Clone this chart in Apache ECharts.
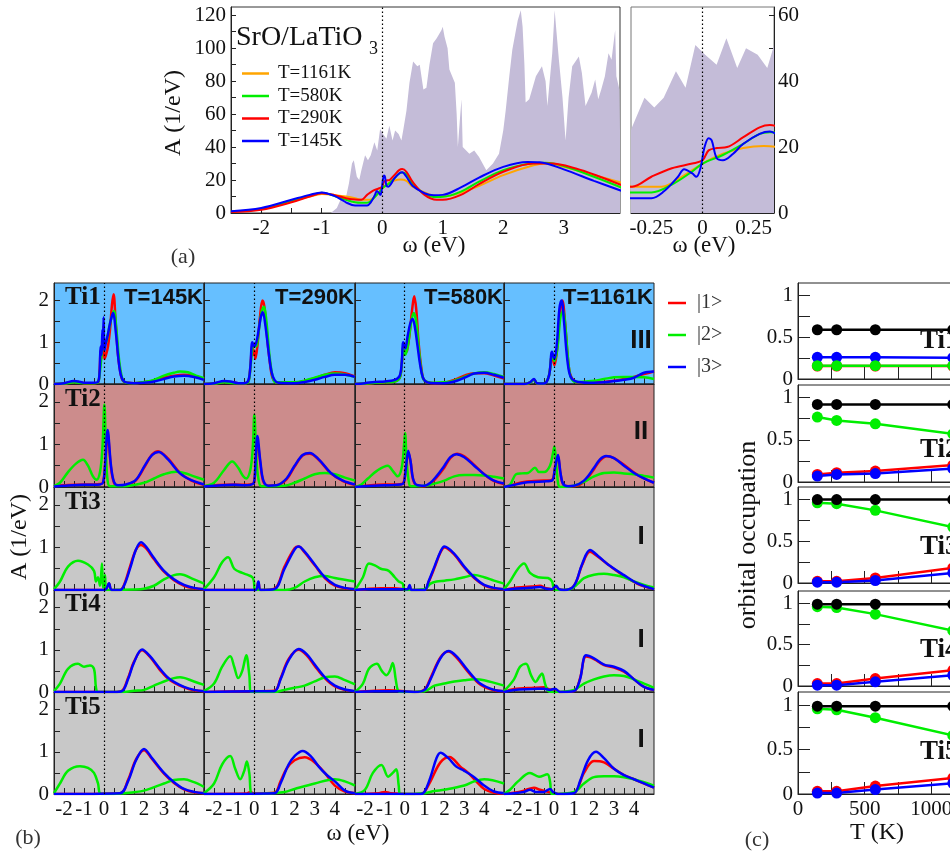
<!DOCTYPE html>
<html>
<head>
<meta charset="utf-8">
<script src="https://cdn.jsdelivr.net/npm/echarts@6/dist/echarts.min.js"></script>
<style>
html,body{margin:0;padding:0;background:#fff}
#main{width:950px;height:855px}
</style>
</head>
<body>
<div id="main"></div>
<script>
// ---------------- panel (a): total spectral function ----------------
var legendA = ['T=1161K', 'T=580K', 'T=290K', 'T=145K'];
var dosA = [[-0.85,0],[-0.75,3],[-0.69,8],[-0.62,6],[-0.55,18],[-0.5,30],[-0.47,32],[-0.42,22],[-0.38,20],[-0.345,26],[-0.284,35],[-0.236,32],[-0.19,35],[-0.13,43],[-0.083,38],[-0.035,51],[0.013,48],[0.069,45],[0.117,53],[0.17,44],[0.213,50],[0.27,48],[0.317,44],[0.346,50],[0.4,62],[0.45,79],[0.51,92],[0.58,89],[0.62,90],[0.68,75],[0.73,76],[0.78,90],[0.84,103],[0.9,106],[0.98,111],[1.0,113],[1.03,107],[1.08,100],[1.11,87],[1.2,79],[1.23,60],[1.25,40],[1.28,55],[1.31,69],[1.33,40],[1.44,36],[1.52,38],[1.6,34],[1.72,26],[1.83,30],[1.93,36],[2.0,50],[2.04,62],[2.1,83],[2.15,99],[2.24,117],[2.29,123],[2.32,113],[2.35,90],[2.37,67],[2.43,69],[2.54,83],[2.64,89],[2.7,80],[2.73,65],[2.78,85],[2.81,97],[2.85,123],[2.88,110],[2.92,93],[2.98,70],[3.03,44],[3.08,70],[3.14,89],[3.25,95],[3.3,85],[3.36,65],[3.46,73],[3.52,81],[3.57,69],[3.62,75],[3.68,83],[3.74,97],[3.79,93],[3.85,111],[3.87,83],[3.92,75],[3.95,75]];
var a1161 = [[-2.5,0.8],[-2,2.5],[-1.5,7],[-1.2,10],[-1,11.5],[-0.8,11],[-0.6,10],[-0.45,9],[-0.345,8],[-0.2,8],[-0.1,11],[0,15],[0.1,18],[0.2,19.7],[0.3,20.3],[0.4,19.5],[0.5,16],[0.8,11],[1.0,10],[1.5,15],[2.0,23],[2.5,29],[2.7,30],[3.0,28],[3.5,23],[3.95,18.5]];
var a580 = [[-2.5,0.8],[-2,2.5],[-1.5,7.5],[-1.2,10.5],[-1,12.3],[-0.8,10.5],[-0.6,8],[-0.45,6.5],[-0.345,6.2],[-0.25,6.2],[-0.15,8.6],[-0.05,12.6],[0,15],[0.1,17.6],[0.2,21],[0.28,24],[0.33,24.5],[0.4,23.5],[0.5,18],[0.7,11.5],[0.9,9.7],[1.0,9.8],[1.3,13],[1.6,19],[2.0,26],[2.45,30],[2.7,30.5],[3.0,28.5],[3.5,22],[3.95,15.5]];
var a290 = [[-2.5,0.6],[-2,2],[-1.5,6.5],[-1.2,10],[-1,12],[-0.8,11],[-0.6,9],[-0.45,8.2],[-0.345,8],[-0.25,11],[-0.15,13.6],[-0.05,15],[0,16],[0.03,19],[0.07,19.7],[0.12,20],[0.2,23],[0.28,26],[0.33,26.7],[0.4,25],[0.5,19],[0.7,11],[0.9,8],[1.0,8],[1.3,11],[1.6,17.5],[2.0,25],[2.5,30],[2.8,30],[3.2,27],[3.6,22],[3.95,17]];
var a145 = [[-2.5,1],[-2,3],[-1.5,8],[-1.2,11],[-1,12.5],[-0.8,10.5],[-0.6,6.5],[-0.45,4.5],[-0.345,4.5],[-0.25,4.5],[-0.19,6.5],[-0.12,11],[-0.09,13.3],[-0.05,12],[-0.03,11],[-0.01,13.6],[0.01,20],[0.03,22.7],[0.045,22],[0.07,16.6],[0.1,16],[0.15,18],[0.2,21],[0.28,24],[0.33,24.7],[0.4,22],[0.5,16.5],[0.7,12],[0.85,10.8],[1.0,11],[1.3,15.5],[1.6,21.5],[2.0,28],[2.4,31],[2.6,30.8],[3.0,26.5],[3.5,19.5],[3.95,13.5]];
var ticksAx = [-2,-1.5,-1,-0.5,0,0.5,1,1.5,2,2.5,3,3.5];
var labelsAx = [-2,-1,0,1,2,3];
var ticksAy = [10,20,30,40,50,60,70,80,90,100,110,120];
var labelsAy = [0,20,40,60,80,100,120];
var ticksZx = [-0.25,-0.125,0,0.125,0.25];
var labelsZx = [-0.25,0,0.25];
var ticksZy = [10,20,30,40,50,60];
var labelsZy = [0,20,40,60];

// ---------------- panel (b): orbital-resolved spectra ----------------
var legendB = ['|1>', '|2>', '|3>'];
var tempsB = ['T=145K', 'T=290K', 'T=580K', 'T=1161K'];
var sitesB = ['Ti1', 'Ti2', 'Ti3', 'Ti4', 'Ti5'];
var regimesB = ['III', 'II', 'I', 'I', 'I'];
var ticksBx = [-2,-1.5,-1,-0.5,0,0.5,1,1.5,2,2.5,3,3.5,4,4.5];
var labelsBx = [-2,-1,0,1,2,3,4];
var ticksBy = [0.5,1,1.5,2];
var labelsBy = [0,1,2];

var ti1_145_r = [[-2.5,0],[-2,0.01],[-1.5,0.05],[-1.3,0.05],[-1,0.02],[-0.5,0.02],[-0.3,0.04],[-0.22,0.3],[-0.17,0.8],[-0.12,0.6],[-0.08,1.2],[-0.05,0.8],[-0.02,1.4],[0.02,0.6],[0.1,0.7],[0.2,0.9],[0.3,1.3],[0.4,1.9],[0.48,2.15],[0.58,1.5],[0.7,0.7],[0.85,0.2],[1.0,0.05],[1.5,0.02],[2,0.04],[2.5,0.08],[3,0.15],[3.5,0.2],[4,0.22],[4.5,0.2],[5,0.12]];
var ti1_145_g = [[-2.5,0],[-2,0.01],[-1.5,0.04],[-1,0.02],[-0.5,0.02],[-0.3,0.04],[-0.2,0.3],[-0.1,0.8],[0,1.0],[0.1,1.0],[0.2,1.2],[0.35,1.55],[0.5,1.75],[0.62,1.3],[0.75,0.6],[0.9,0.15],[1.05,0.04],[1.5,0.02],[2,0.05],[2.5,0.1],[3,0.2],[3.5,0.27],[3.8,0.3],[4.2,0.28],[4.6,0.2],[5,0.14]];
var ti1_145_b = [[-2.5,0],[-2,0.02],[-1.5,0.07],[-1.3,0.06],[-1,0.03],[-0.5,0.03],[-0.3,0.05],[-0.22,0.3],[-0.17,0.9],[-0.12,0.7],[-0.08,1.3],[-0.05,0.9],[-0.02,1.6],[0.02,0.8],[0.1,1.0],[0.2,1.2],[0.3,1.45],[0.45,1.7],[0.6,1.2],[0.72,0.6],[0.85,0.2],[1.0,0.06],[1.2,0.03],[1.5,0.02],[2,0.03],[2.5,0.06],[3,0.12],[3.5,0.18],[4,0.2],[4.5,0.17],[5,0.1]];
var ti1_290_r = [[-2.5,0],[-2,0.01],[-1.5,0.05],[-1.2,0.05],[-0.8,0.02],[-0.5,0.02],[-0.3,0.06],[-0.2,0.4],[-0.1,0.95],[-0.05,0.7],[0,0.8],[0.05,0.6],[0.15,0.9],[0.28,1.6],[0.4,2.0],[0.5,1.85],[0.62,1.2],[0.75,0.6],[0.9,0.15],[1.1,0.04],[2,0.03],[2.5,0.07],[3,0.14],[3.5,0.22],[4,0.28],[4.5,0.26],[5,0.18]];
var ti1_290_g = [[-2.5,0],[-2,0.01],[-1.5,0.04],[-1,0.02],[-0.5,0.02],[-0.3,0.05],[-0.2,0.35],[-0.1,0.85],[0,0.95],[0.1,0.9],[0.2,1.2],[0.35,1.7],[0.48,1.85],[0.6,1.5],[0.75,0.7],[0.9,0.2],[1.05,0.04],[2,0.04],[2.5,0.08],[3,0.15],[3.5,0.22],[4,0.25],[4.5,0.23],[5,0.17]];
var ti1_290_b = [[-2.5,0],[-2,0.02],[-1.5,0.07],[-1.2,0.06],[-0.8,0.02],[-0.5,0.02],[-0.3,0.08],[-0.2,0.4],[-0.1,1.0],[0,0.9],[0.1,1.0],[0.2,1.25],[0.32,1.6],[0.42,1.72],[0.55,1.4],[0.7,0.8],[0.85,0.3],[1.0,0.1],[1.2,0.03],[2,0.02],[2.5,0.05],[3,0.1],[3.5,0.17],[4,0.22],[4.5,0.22],[5,0.17]];
var ti1_580_r = [[-2.5,0],[-2,0.01],[-1.5,0.03],[-1,0.04],[-0.5,0.06],[-0.25,0.15],[-0.15,0.45],[-0.07,0.9],[0.03,0.75],[0.12,0.8],[0.25,1.2],[0.38,1.8],[0.48,2.1],[0.58,1.8],[0.7,1.0],[0.85,0.35],[1.0,0.08],[1.5,0.02],[2,0.03],[2.5,0.1],[3,0.2],[3.5,0.26],[4,0.26],[4.5,0.2],[5,0.13]];
var ti1_580_g = [[-2.5,0],[-2,0.01],[-1.5,0.03],[-1,0.04],[-0.5,0.06],[-0.25,0.15],[-0.15,0.45],[-0.07,0.9],[0.03,0.7],[0.15,0.9],[0.3,1.4],[0.45,1.7],[0.58,1.5],[0.7,0.9],[0.85,0.3],[1.0,0.08],[1.5,0.03],[2,0.04],[2.5,0.08],[3,0.17],[3.5,0.25],[4,0.28],[4.5,0.24],[5,0.17]];
var ti1_580_b = [[-2.5,0],[-2,0.02],[-1.5,0.05],[-1,0.06],[-0.5,0.1],[-0.25,0.2],[-0.15,0.5],[-0.07,1.0],[0.03,0.85],[0.15,1.15],[0.28,1.45],[0.4,1.56],[0.52,1.35],[0.65,0.9],[0.8,0.4],[0.95,0.12],[1.15,0.04],[1.5,0.02],[2,0.02],[2.5,0.06],[3,0.15],[3.5,0.25],[4,0.27],[4.5,0.22],[5,0.15]];
var ti1_1161_r = [[-2.5,0],[-1.5,0],[-1.2,0.03],[-1.0,0.1],[-0.85,0.02],[-0.5,0.01],[-0.25,0.2],[-0.1,0.72],[0.02,0.45],[0.15,0.8],[0.3,1.7],[0.42,2.0],[0.55,1.5],[0.68,0.7],[0.8,0.25],[1.0,0.07],[1.2,0.04],[2,0.04],[2.5,0.05],[3,0.08],[3.5,0.12],[4,0.17],[4.5,0.24],[5,0.3]];
var ti1_1161_g = [[-2.5,0],[-1.5,0],[-1.2,0.03],[-1.0,0.1],[-0.85,0.02],[-0.5,0.01],[-0.25,0.2],[-0.1,0.7],[0.02,0.55],[0.18,0.9],[0.32,1.6],[0.45,1.75],[0.58,1.3],[0.72,0.5],[0.85,0.15],[1.1,0.05],[2,0.08],[2.5,0.12],[3,0.16],[3.5,0.17],[4,0.17],[4.5,0.16],[5,0.12]];
var ti1_1161_b = [[-2.5,0],[-1.5,0],[-1.2,0.04],[-1.0,0.12],[-0.85,0.02],[-0.5,0.01],[-0.25,0.2],[-0.1,0.77],[0.02,0.6],[0.15,1.0],[0.27,1.8],[0.38,2.0],[0.5,1.5],[0.62,0.8],[0.75,0.3],[0.9,0.12],[1.2,0.05],[2,0.03],[2.5,0.04],[3,0.07],[3.5,0.1],[4,0.15],[4.5,0.27],[5,0.3]];

var ti2_145_r = [[-2.5,0.02],[-2,0.04],[-1,0.06],[-0.5,0.06],[-0.2,0.07],[-0.05,0.1],[0.05,0.45],[0.18,1.25],[0.35,0.45],[0.5,0.1],[0.7,0.03],[1.1,0.05],[1.58,0.15],[2.06,0.5],[2.4,0.76],[2.7,0.84],[3.2,0.67],[3.8,0.33],[4.37,0.15],[5,0.05]];
var ti2_145_g = [[-2.5,0.02],[-2.2,0.1],[-1.8,0.35],[-1.4,0.55],[-1.05,0.64],[-0.8,0.5],[-0.55,0.25],[-0.37,0.17],[-0.2,0.35],[-0.08,0.9],[0.02,1.94],[0.1,0.8],[0.18,0.15],[0.3,0.02],[1.0,0.02],[1.5,0.05],[2,0.1],[2.5,0.2],[3,0.3],[3.6,0.36],[4,0.33],[4.5,0.25],[5,0.17]];
var ti2_145_b = [[-2.5,0.01],[-2,0.03],[-1,0.05],[-0.5,0.05],[-0.2,0.06],[-0.05,0.1],[0.05,0.5],[0.18,1.34],[0.35,0.5],[0.5,0.12],[0.7,0.04],[1.1,0.06],[1.58,0.16],[2.06,0.52],[2.4,0.75],[2.73,0.82],[3.2,0.65],[3.8,0.32],[4.37,0.16],[5,0.06]];
var ti2_290_r = [[-2.5,0.02],[-2,0.04],[-1,0.06],[-0.5,0.05],[-0.2,0.06],[-0.02,0.1],[0.06,0.55],[0.15,1.1],[0.3,0.55],[0.45,0.12],[0.7,0.03],[1.1,0.04],[1.6,0.18],[2.0,0.48],[2.4,0.74],[2.75,0.78],[3.2,0.64],[3.8,0.32],[4.4,0.14],[5,0.05]];
var ti2_290_g = [[-2.5,0.02],[-2,0.1],[-1.5,0.4],[-1.1,0.6],[-0.8,0.45],[-0.55,0.25],[-0.4,0.2],[-0.2,0.4],[-0.08,0.9],[0.0,1.7],[0.1,0.7],[0.2,0.2],[0.35,0.02],[1.5,0.03],[2,0.1],[2.5,0.2],[3,0.3],[3.5,0.33],[4,0.3],[4.5,0.22],[5,0.15]];
var ti2_290_b = [[-2.5,0.01],[-2,0.03],[-1,0.05],[-0.5,0.04],[-0.2,0.05],[-0.02,0.1],[0.06,0.6],[0.15,1.2],[0.3,0.6],[0.45,0.15],[0.7,0.03],[1.1,0.04],[1.6,0.2],[2.0,0.5],[2.4,0.75],[2.75,0.8],[3.2,0.65],[3.8,0.33],[4.4,0.15],[5,0.06]];
var ti2_580_r = [[-2.5,0],[-2,0.03],[-1,0.06],[-0.5,0.06],[-0.1,0.08],[0.05,0.4],[0.18,0.82],[0.3,0.58],[0.42,0.18],[0.6,0.04],[1.0,0.02],[1.3,0.08],[1.6,0.22],[2,0.46],[2.3,0.68],[2.65,0.78],[3,0.72],[3.5,0.52],[4,0.3],[4.5,0.14],[5,0.07]];
var ti2_580_g = [[-2.5,0],[-2.2,0.05],[-1.85,0.2],[-1.4,0.38],[-0.85,0.5],[-0.6,0.38],[-0.35,0.25],[-0.15,0.45],[-0.03,1.0],[0.02,1.27],[0.1,0.6],[0.2,0.15],[0.3,0.02],[1,0.03],[1.5,0.08],[2,0.15],[2.5,0.25],[3,0.28],[3.5,0.28],[4,0.27],[4.5,0.24],[5,0.2]];
var ti2_580_b = [[-2.5,0],[-2,0.02],[-1,0.04],[-0.5,0.05],[-0.1,0.07],[0.05,0.4],[0.18,0.85],[0.3,0.6],[0.42,0.2],[0.6,0.05],[1.0,0.03],[1.3,0.1],[1.6,0.25],[2,0.5],[2.3,0.7],[2.6,0.77],[3,0.7],[3.5,0.5],[4,0.3],[4.5,0.15],[5,0.08]];
var ti2_1161_r = [[-2.5,0],[-2,0.06],[-1.5,0.12],[-1,0.14],[-0.5,0.15],[-0.1,0.17],[0.05,0.45],[0.2,0.72],[0.32,0.33],[0.45,0.07],[0.7,0.02],[1,0.02],[1.5,0.12],[2,0.42],[2.3,0.62],[2.65,0.72],[3,0.68],[3.5,0.52],[4,0.34],[4.5,0.2],[5,0.1]];
var ti2_1161_g = [[-2.5,0],[-2.2,0.05],[-1.9,0.3],[-1.6,0.32],[-1.3,0.33],[-0.95,0.45],[-0.75,0.35],[-0.5,0.35],[-0.2,0.5],[-0.05,0.8],[0.02,0.95],[0.12,0.5],[0.2,0.1],[0.3,0],[1,0.03],[1.5,0.12],[2,0.25],[2.5,0.33],[3,0.34],[3.5,0.32],[4,0.3],[4.5,0.26],[5,0.22]];
var ti2_1161_b = [[-2.5,0],[-2,0.05],[-1.5,0.1],[-1,0.12],[-0.5,0.13],[-0.1,0.15],[0.05,0.45],[0.2,0.75],[0.32,0.35],[0.45,0.08],[0.7,0.02],[1,0.03],[1.5,0.15],[2,0.45],[2.3,0.65],[2.6,0.73],[3,0.68],[3.5,0.5],[4,0.33],[4.5,0.2],[5,0.1]];

var ti3_145_r = [[-2.5,0],[-0.1,0],[0.1,0.02],[0.25,0.15],[0.38,0],[0.8,0],[1.0,0.12],[1.3,0.55],[1.6,0.95],[1.85,1.06],[2.1,0.98],[2.5,0.72],[3.0,0.43],[3.5,0.23],[4.0,0.1],[4.5,0.04],[5,0.02]];
var ti3_145_g = [[-2.5,0.02],[-2.2,0.2],[-1.8,0.55],[-1.3,0.69],[-0.8,0.6],[-0.5,0.45],[-0.4,0.2],[-0.3,0.3],[-0.2,0.1],[-0.1,0.62],[-0.05,0.05],[0.05,0.35],[0.1,0],[0.5,0],[1.5,0.01],[2,0.03],[2.5,0.1],[3,0.25],[3.5,0.35],[3.8,0.37],[4.5,0.25],[5,0.15]];
var ti3_145_b = [[-2.5,0],[-0.1,0],[0.1,0.02],[0.25,0.16],[0.38,0],[0.8,0],[1.0,0.1],[1.3,0.5],[1.6,0.95],[1.85,1.12],[2.1,1.02],[2.5,0.75],[3.0,0.45],[3.5,0.25],[4.0,0.12],[4.5,0.05],[5,0.02]];
var ti3_290_r = [[-2.5,0],[0.05,0],[0.2,0.18],[0.32,0],[1.0,0.03],[1.5,0.55],[2.0,0.98],[2.2,1.02],[2.5,0.88],[3.0,0.58],[3.5,0.28],[4.0,0.1],[4.5,0.04],[5,0.02]];
var ti3_290_g = [[-2.5,0.02],[-2.0,0.3],[-1.6,0.65],[-1.3,0.77],[-1.0,0.5],[-0.6,0.4],[-0.3,0.35],[-0.1,0.3],[-0.02,0.2],[0.02,0],[1.5,0],[2,0.05],[2.5,0.2],[3,0.3],[3.5,0.33],[4,0.28],[5,0.2]];
var ti3_290_b = [[-2.5,0],[0.05,0],[0.2,0.2],[0.32,0],[1.0,0.02],[1.5,0.5],[2.0,0.95],[2.2,1.02],[2.5,0.9],[3.0,0.6],[3.5,0.3],[4.0,0.12],[4.5,0.05],[5,0.02]];
var ti3_580_r = [[-2.5,0],[-2,0.02],[-1.2,0.04],[-0.5,0.04],[0,0.02],[0.15,0.02],[0.25,0.1],[0.35,0],[1.0,0],[1.2,0.18],[1.5,0.52],[1.8,0.88],[2.0,1.0],[2.5,0.83],[3.0,0.53],[3.5,0.28],[4.0,0.11],[4.5,0.04],[5,0.02]];
var ti3_580_g = [[-2.5,0],[-2.1,0.3],[-1.8,0.62],[-1.5,0.58],[-1.2,0.5],[-0.8,0.45],[-0.5,0.3],[-0.3,0.2],[-0.1,0.15],[0,0],[1,0.02],[1.3,0.15],[1.6,0.2],[2,0.22],[2.5,0.25],[3,0.3],[3.5,0.35],[4,0.3],[4.5,0.22],[5,0.15]];
var ti3_580_b = [[-2.5,0],[-2,0.02],[0,0.02],[0.15,0.02],[0.25,0.12],[0.35,0],[1.0,0],[1.2,0.2],[1.5,0.55],[1.8,0.9],[2.0,1.02],[2.5,0.85],[3.0,0.55],[3.5,0.3],[4.0,0.12],[4.5,0.05],[5,0.02]];
var ti3_1161_r = [[-2.5,0],[-2,0.05],[-1.5,0.07],[-1.1,0.08],[-0.7,0.1],[-0.4,0.04],[-0.1,0.02],[0.1,0.08],[0.25,0.02],[0.5,0],[1.0,0.1],[1.4,0.58],[1.8,0.9],[2.2,0.78],[2.7,0.6],[3.5,0.33],[4.2,0.14],[5,0.02]];
var ti3_1161_g = [[-2.5,0.02],[-2.2,0.2],[-1.8,0.5],[-1.5,0.62],[-1.2,0.4],[-0.8,0.3],[-0.3,0.28],[-0.1,0.2],[0.05,0],[0.8,0.02],[1.2,0.15],[1.5,0.28],[2,0.36],[2.5,0.38],[3,0.35],[3.5,0.3],[4,0.2],[4.5,0.12],[5,0.06]];
var ti3_1161_b = [[-2.5,0],[-2,0.03],[-1.2,0.05],[-0.7,0.07],[-0.4,0.03],[-0.1,0.02],[0.1,0.1],[0.25,0.02],[0.5,0],[1.0,0.1],[1.4,0.6],[1.8,0.94],[2.2,0.8],[2.7,0.6],[3.5,0.35],[4.2,0.15],[5,0.02]];

var ti4_145_r = [[-2.5,0],[0.5,0],[0.9,0.03],[1.2,0.33],[1.5,0.72],[1.9,0.99],[2.3,0.83],[2.8,0.52],[3.3,0.28],[4.0,0.11],[4.5,0.04],[5,0.02]];
var ti4_145_g = [[-2.5,0.02],[-2.2,0.2],[-1.8,0.55],[-1.3,0.67],[-1.0,0.6],[-0.7,0.63],[-0.5,0.55],[-0.4,0.1],[-0.3,0],[1,0],[1.5,0.03],[2,0.05],[2.5,0.15],[3,0.25],[3.5,0.33],[3.8,0.35],[4.5,0.25],[5,0.17]];
var ti4_145_b = [[-2.5,0],[0.5,0],[0.9,0.02],[1.2,0.3],[1.5,0.7],[1.9,1.01],[2.3,0.85],[2.8,0.55],[3.3,0.3],[4.0,0.12],[4.5,0.05],[5,0.02]];
var ti4_290_r = [[-2.5,0],[-0.5,0.02],[0,0.02],[1.0,0.03],[1.3,0.32],[1.7,0.78],[2.2,1.0],[2.6,0.87],[3.0,0.62],[3.5,0.33],[4,0.13],[4.5,0.05],[5,0.02]];
var ti4_290_g = [[-2.5,0.02],[-2.0,0.2],[-1.6,0.6],[-1.2,0.85],[-1.0,0.6],[-0.8,0.33],[-0.6,0.5],[-0.4,0.87],[-0.25,0.4],[-0.15,0],[1.0,0],[1.5,0.05],[2,0.1],[2.5,0.15],[3,0.25],[3.5,0.35],[4,0.37],[4.5,0.28],[5,0.18]];
var ti4_290_b = [[-2.5,0],[0,0.02],[1.0,0.02],[1.3,0.3],[1.7,0.75],[2.2,1.02],[2.6,0.9],[3.0,0.65],[3.5,0.35],[4,0.15],[4.5,0.06],[5,0.02]];
var ti4_580_r = [[-2.5,0],[-1.5,0.03],[-0.8,0.04],[-0.3,0.03],[0.5,0],[1.0,0.06],[1.3,0.33],[1.8,0.82],[2.2,0.96],[2.6,0.82],[3.2,0.47],[3.8,0.18],[4.5,0.04],[5,0.02]];
var ti4_580_g = [[-2.5,0],[-2.1,0.2],[-1.8,0.55],[-1.4,0.67],[-1.15,0.5],[-0.92,0.4],[-0.75,0.5],[-0.6,0.69],[-0.45,0.3],[-0.35,0.05],[-0.2,0],[1,0.02],[1.5,0.15],[2,0.2],[2.5,0.25],[3,0.28],[3.5,0.3],[4,0.28],[5,0.15]];
var ti4_580_b = [[-2.5,0],[-1.5,0.02],[-0.3,0.02],[0.5,0],[1.0,0.05],[1.3,0.3],[1.8,0.8],[2.2,0.97],[2.6,0.85],[3.2,0.5],[3.8,0.2],[4.5,0.05],[5,0.02]];
var ti4_1161_r = [[-2.5,0],[-2,0.07],[-1,0.1],[-0.5,0.11],[-0.2,0.06],[0.05,0.06],[0.3,0],[1.0,0.02],[1.3,0.32],[1.6,0.84],[2.0,0.78],[2.5,0.64],[3.0,0.58],[3.5,0.48],[4.0,0.3],[4.5,0.12],[5,0.05]];
var ti4_1161_g = [[-2.5,0.02],[-2.0,0.3],[-1.7,0.6],[-1.4,0.67],[-1.15,0.4],[-0.92,0.24],[-0.75,0.35],[-0.6,0.44],[-0.45,0.2],[-0.3,0.03],[0,0],[1,0.05],[1.5,0.2],[2,0.3],[2.5,0.37],[3,0.4],[3.5,0.38],[4,0.3],[4.5,0.2],[5,0.1]];
var ti4_1161_b = [[-2.5,0],[-2,0.05],[-1,0.07],[-0.5,0.08],[-0.2,0.05],[0.05,0.08],[0.3,0],[1.0,0.02],[1.3,0.3],[1.6,0.87],[2.0,0.8],[2.5,0.65],[3.0,0.6],[3.5,0.5],[4.0,0.3],[4.5,0.12],[5,0.05]];

var ti5_145_r = [[-2.5,0],[0.8,0.02],[1.2,0.33],[1.6,0.82],[2.0,1.04],[2.4,0.83],[3,0.48],[3.5,0.26],[4,0.11],[4.5,0.04],[5,0.02]];
var ti5_145_g = [[-2.5,0.02],[-2.2,0.25],[-1.8,0.55],[-1.2,0.66],[-0.8,0.62],[-0.5,0.5],[-0.3,0.25],[-0.15,0],[1,0.02],[2,0.08],[3,0.25],[3.5,0.33],[4,0.35],[4.5,0.28],[5,0.17]];
var ti5_145_b = [[-2.5,0],[0.8,0.02],[1.2,0.3],[1.6,0.8],[2.0,1.07],[2.4,0.85],[3,0.5],[3.5,0.28],[4,0.12],[4.5,0.05],[5,0.02]];
var ti5_290_r = [[-2.5,0],[-0.4,0.01],[-0.2,0.05],[0,0.01],[1.0,0.03],[1.3,0.3],[1.6,0.6],[2.0,0.8],[2.5,0.87],[3.0,0.75],[3.5,0.5],[4.0,0.2],[4.5,0.06],[5,0.02]];
var ti5_290_g = [[-2.5,0.02],[-2.0,0.25],[-1.6,0.7],[-1.2,0.9],[-0.95,0.6],[-0.7,0.35],[-0.5,0.55],[-0.37,0.77],[-0.25,0.5],[-0.1,0],[1.5,0.05],[2,0.12],[3,0.25],[4,0.35],[4.5,0.3],[5,0.2]];
var ti5_290_b = [[-2.5,0],[1.0,0.02],[1.3,0.25],[1.7,0.7],[2.0,0.9],[2.4,1.02],[2.8,0.9],[3.2,0.65],[3.6,0.45],[4.0,0.3],[4.5,0.08],[5,0.02]];
var ti5_580_r = [[-2.5,0],[-1.3,0.02],[-1.0,0.05],[-0.7,0.02],[0.8,0],[1.0,0.05],[1.3,0.3],[1.8,0.75],[2.25,0.88],[2.8,0.65],[3.2,0.5],[3.6,0.3],[4.0,0.12],[4.5,0.03],[5,0.01]];
var ti5_580_g = [[-2.5,0],[-2.0,0.1],[-1.6,0.5],[-1.17,0.69],[-0.83,0.41],[-0.6,0.5],[-0.42,0.59],[-0.3,0.2],[-0.22,0],[1,0.02],[1.5,0.07],[2,0.1],[3,0.2],[3.5,0.3],[4,0.35],[5,0.25]];
var ti5_580_b = [[-2.5,0],[0.8,0],[1.0,0.05],[1.3,0.4],[1.6,0.85],[1.8,0.98],[2.2,0.85],[2.6,0.65],[3.0,0.55],[3.5,0.4],[4.0,0.2],[4.5,0.06],[5,0.02]];
var ti5_1161_r = [[-2.5,0],[-2,0.03],[-1.5,0.08],[-1.0,0.15],[-0.7,0.1],[-0.3,0.05],[0,0.02],[0.2,0],[1.0,0.03],[1.5,0.5],[2.0,0.78],[2.5,0.75],[3,0.6],[3.5,0.45],[4,0.35],[5,0.15]];
var ti5_1161_g = [[-2.5,0],[-2.2,0.1],[-1.8,0.3],[-1.2,0.5],[-0.75,0.41],[-0.33,0.47],[-0.2,0.3],[-0.1,0],[1,0.05],[1.5,0.25],[2,0.4],[2.5,0.42],[3,0.42],[3.5,0.4],[4,0.35],[5,0.2]];
var ti5_1161_b = [[-2.5,0],[-2,0.02],[-1.5,0.05],[-1.2,0.1],[-0.9,0.05],[-0.5,0.05],[-0.2,0.12],[-0.05,0.05],[0.2,0],[1.0,0.02],[1.3,0.3],[1.7,0.8],[2.1,1.0],[2.5,0.85],[3,0.6],[3.5,0.45],[4,0.35],[4.5,0.25],[5,0.15]];

// ---------------- panel (c): orbital occupations vs T ----------------
var tempsC = [145, 290, 580, 1161];
var ticksCx = [250, 500, 750, 1000];
var labelsCx = [0, 500, 1000];
var ticksCy = [0.25, 0.5, 0.75, 1];
var labelsCy = [0, 0.5, 1];
var occ1_k = [0.59, 0.59, 0.59, 0.59], occ1_r = [0.155, 0.155, 0.155, 0.155], occ1_b = [0.26, 0.26, 0.26, 0.255], occ1_g = [0.16, 0.16, 0.16, 0.16];
var occ2_k = [0.92, 0.92, 0.92, 0.92], occ2_r = [0.09, 0.11, 0.13, 0.2], occ2_b = [0.07, 0.09, 0.10, 0.16], occ2_g = [0.77, 0.73, 0.69, 0.57];
var occ3_k = [1.0, 1.0, 1.0, 1.0], occ3_r = [0.02, 0.02, 0.06, 0.18], occ3_b = [0.01, 0.01, 0.03, 0.12], occ3_g = [0.96, 0.95, 0.87, 0.67];
var occ4_k = [0.99, 0.99, 0.99, 0.99], occ4_r = [0.03, 0.03, 0.09, 0.19], occ4_b = [0.01, 0.01, 0.05, 0.13], occ4_g = [0.96, 0.95, 0.87, 0.67];
var occ5_k = [0.99, 0.99, 0.99, 0.99], occ5_r = [0.03, 0.03, 0.09, 0.18], occ5_b = [0.01, 0.01, 0.05, 0.12], occ5_g = [0.96, 0.95, 0.86, 0.66];

var curvesB = [
	[[ti1_145_r, ti1_145_g, ti1_145_b], [ti1_290_r, ti1_290_g, ti1_290_b], [ti1_580_r, ti1_580_g, ti1_580_b], [ti1_1161_r, ti1_1161_g, ti1_1161_b]],
	[[ti2_145_r, ti2_145_g, ti2_145_b], [ti2_290_r, ti2_290_g, ti2_290_b], [ti2_580_r, ti2_580_g, ti2_580_b], [ti2_1161_r, ti2_1161_g, ti2_1161_b]],
	[[ti3_145_r, ti3_145_g, ti3_145_b], [ti3_290_r, ti3_290_g, ti3_290_b], [ti3_580_r, ti3_580_g, ti3_580_b], [ti3_1161_r, ti3_1161_g, ti3_1161_b]],
	[[ti4_145_r, ti4_145_g, ti4_145_b], [ti4_290_r, ti4_290_g, ti4_290_b], [ti4_580_r, ti4_580_g, ti4_580_b], [ti4_1161_r, ti4_1161_g, ti4_1161_b]],
	[[ti5_145_r, ti5_145_g, ti5_145_b], [ti5_290_r, ti5_290_g, ti5_290_b], [ti5_580_r, ti5_580_g, ti5_580_b], [ti5_1161_r, ti5_1161_g, ti5_1161_b]]
];
var occC = [
	[occ1_r, occ1_b, occ1_g, occ1_k],
	[occ2_r, occ2_b, occ2_g, occ2_k],
	[occ3_r, occ3_b, occ3_g, occ3_k],
	[occ4_r, occ4_b, occ4_g, occ4_k],
	[occ5_r, occ5_b, occ5_g, occ5_k]
];

//----------------------- layout / style -----------------------
var SERIF = "'Liberation Serif','DejaVu Serif',serif";
var SANS = "'Liberation Sans','DejaVu Sans',sans-serif";
var INK = '#111';
var RED = '#ff0000', GREEN = '#00ee00', BLUE = '#0000ff', ORANGE = '#ffa500';
var colX = [54, 204, 355, 504, 654];
var rowY = [283, 384, 487, 590, 692, 794];
var rowBg = ['#66bfff', '#cc8c8c', '#c8c8c8', '#c8c8c8', '#c8c8c8'];
var rowC = [[283, 379], [385, 482], [487, 583], [591, 686], [692, 794]];

var grids = [], xAxes = [], yAxes = [], series = [], graphics = [];

function addGrid(l, t, w, h, bg, border) {
	grids.push({left: l, top: t, width: w, height: h, show: true, backgroundColor: bg || 'transparent',
		borderColor: border || '#222', borderWidth: 1, containLabel: false, outerBoundsMode: 'none'});
	return grids.length - 1;
}

function axis(gi, min, max, ticks, labels, tickLen, pos) {
	return {
		type: 'value', gridIndex: gi, min: min, max: max, position: pos,
		axisLine: {show: true, onZero: false, lineStyle: {color: '#222', width: 1}},
		axisTick: {show: true, inside: true, length: tickLen, customValues: ticks, lineStyle: {color: '#222', width: 1}},
		axisLabel: {show: !!labels, customValues: labels || [], fontFamily: SERIF, fontSize: 21, color: INK, margin: 5,
			formatter: function(v) { return String(v); }},
		splitLine: {show: false}
	};
}

function line(gi, name, data, color, width, opts) {
	var s = {
		type: 'line', name: name, xAxisIndex: gi, yAxisIndex: gi, data: data, color: color,
		showSymbol: false, symbol: 'none', smooth: 0.35, lineStyle: {width: width, color: color},
		silent: true, animation: false
	};
	for (var k in opts) s[k] = opts[k];
	return s;
}

var zeroLine = {
	silent: true, symbol: ['none', 'none'], label: {show: false}, animation: false,
	lineStyle: {type: [1.5, 2.5], color: '#000', width: 1.2}, data: [{xAxis: 0}]
};

function text(x, y, s, size, o) {
	o = o || {};
	graphics.push({
		type: 'text', x: x, y: y, rotation: o.rot || 0, silent: true, z: 100,
		style: {text: s, fontSize: size, fontFamily: o.family || SERIF, fontWeight: o.weight || 'normal',
			fill: o.color || INK, align: o.align || 'center', verticalAlign: 'middle',
			textAlign: o.align || 'center', textVerticalAlign: 'middle'}
	});
}

//----------------------- panel (a) -----------------------
var gA = addGrid(231, 7, 389, 206, null, '#333');
xAxes.push(axis(gA, -2.5, 3.93, ticksAx, labelsAx, 5));
yAxes.push(axis(gA, 0, 125, ticksAy, labelsAy, 5, 'left'));
var gZ = addGrid(631, 7, 143, 206, null, '#777');
xAxes.push(axis(gZ, -0.35, 0.35, ticksZx, labelsZx, 5));
yAxes.push(axis(gZ, 0, 62.5, ticksZy, labelsZy, 5, 'right'));
yAxes[gZ].axisLabel.margin = 4;

var curvesA = [a1161, a580, a290, a145];
var colorsA = [ORANGE, GREEN, RED, BLUE];
[gA, gZ].forEach(function(gi) {
	series.push(line(gi, 'DOS', dosA, '#c4bcd8', 0, {smooth: false, areaStyle: {color: '#c4bcd8', opacity: 1},
		lineStyle: {width: 0}, markLine: zeroLine, z: 1}));
	curvesA.forEach(function(d, i) {
		series.push(line(gi, legendA[i], d, colorsA[i], 2, {z: 3}));
	});
});

text(236, 38, 'SrO/LaTiO', 28, {align: 'left'});
text(369, 49, '3', 18, {align: 'left'});
text(174, 113, 'A (1/eV)', 24, {rot: Math.PI / 2});
text(434, 246, 'ω (eV)', 23);
text(704, 246, 'ω (eV)', 23);
text(183, 257, '(a)', 22, {color: '#333'});

//----------------------- panel (b) -----------------------
var colorsB = [RED, GREEN, BLUE];
for (var r = 0; r < 5; r++) {
	for (var c = 0; c < 4; c++) {
		var gi = addGrid(colX[c], rowY[r], colX[c + 1] - colX[c], rowY[r + 1] - rowY[r], rowBg[r], '#222');
		xAxes.push(axis(gi, -2.5, 5, ticksBx, r === 4 ? labelsBx : null, 6));
		yAxes.push(axis(gi, 0, 2.42, ticksBy, c === 0 ? labelsBy : null, 6, 'left'));
		curvesB[r][c].forEach(function(d, k) {
			series.push(line(gi, legendB[k], d, colorsB[k], 2.5, k === 0 ? {markLine: zeroLine} : {}));
		});
	}
	text(65, [298, 400, 503, 605, 708][r], sitesB[r], 25, {align: 'left', weight: 'bold'});
	text(641, [341, 432, 537, 640, 740][r], regimesB[r], 26, {family: SANS, weight: 'bold'});
}
tempsB.forEach(function(t, c) {
	text(colX[c + 1] - 1, 298, t, 22, {align: 'right', family: SANS, weight: 'bold'});
});
text(20, 537, 'A (1/eV)', 24, {rot: Math.PI / 2});
text(358, 834, 'ω (eV)', 23);
text(28, 838, '(b)', 22, {color: '#333'});

//----------------------- panel (c) -----------------------
var colorsC = [RED, BLUE, GREEN, '#000'];
for (var r2 = 0; r2 < 5; r2++) {
	var gc = addGrid(798, rowC[r2][0], 160, rowC[r2][1] - rowC[r2][0], null, '#222');
	xAxes.push(axis(gc, 0, 1200, ticksCx, r2 === 4 ? labelsCx : null, 12));
	yAxes.push(axis(gc, 0, 1.15, ticksCy, labelsCy, 12, 'left'));
	occC[r2].forEach(function(v, k) {
		var pts = tempsC.map(function(t, i) { return [t, v[i]]; });
		series.push(line(gc, 'occ' + k, pts, colorsC[k], 2.5, {smooth: false, showSymbol: true, symbol: 'circle',
			symbolSize: 11, clip: false, itemStyle: {color: colorsC[k], borderWidth: 0}}));
	});
	text(920, [341, 450, 547, 650, 752][r2], 'Ti' + (r2 + 1), 27, {align: 'left', weight: 'bold'});
}
text(748, 535, 'orbital occupation', 26, {rot: Math.PI / 2});
text(877, 833, 'T (K)', 24);
text(757, 840, '(c)', 22, {color: '#333'});

var option = {
	animation: false,
	backgroundColor: '#fff',
	grid: grids,
	xAxis: xAxes,
	yAxis: yAxes,
	legend: [{
		data: legendA, orient: 'vertical', left: 242, top: 64, padding: 0, icon: 'rect',
		itemWidth: 27, itemHeight: 2.5, itemGap: 3.5, selectedMode: false,
		textStyle: {fontFamily: SERIF, fontSize: 19, lineHeight: 16, color: INK, padding: [0, 0, 0, 4]}
	}, {
		data: legendB, orient: 'vertical', left: 668, top: 293, padding: 0, icon: 'rect',
		itemWidth: 18, itemHeight: 2.5, itemGap: 12, selectedMode: false,
		textStyle: {fontFamily: SERIF, fontSize: 20, lineHeight: 16, color: '#333', padding: [0, 0, 0, 6]}
	}],
	series: series,
	graphic: graphics
};

var myChart = echarts.init(document.getElementById('main'));
myChart.setOption(option, true);
</script>
</body>
</html>
